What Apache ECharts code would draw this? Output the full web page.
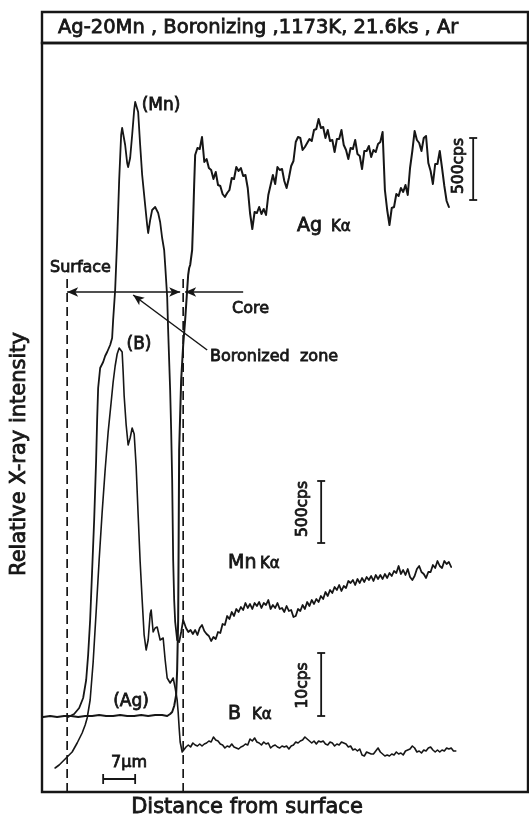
<!DOCTYPE html>
<html>
<head>
<meta charset="utf-8">
<title>Ag-20Mn boronizing - EPMA line analysis</title>
<script src="https://cdn.jsdelivr.net/npm/echarts@6/dist/echarts.min.js"></script>
<style>
html,body{margin:0;padding:0;background:#fff;}
#chart{width:529px;height:818px;}
</style>
</head>
<body>
<div id="chart"></div>
<script>
// Distance from the surface in µm, intensity in relative trace units.
const STEP = 0.5; // µm between samples of the core traces

// Ag Kα: (Ag) level across the boronized zone and its rise at the boundary
const agEdgeX = [-5.25,-3.72,-2.19,-0.66,0.88,2.41,3.94,5.47,7.0,8.53,10.06,11.59,13.13,14.66,16.19,17.72,19.25,20.78,21.88,22.53,22.97,23.41,23.84,24.06,24.28,24.39,24.5,24.94,25.38,25.81,26.25,26.47,26.69,26.91,27.34,27.56,27.78];
const agEdgeY = [75,76,75,76,76,75,76,76,77,76,76,77,76,76,77,76,77,77,76,78,80,86,97,122,172,252,342,412,447,472,502,517,524,527,542,572,607];
// Ag Kα in the core, one value every STEP µm from agCoreStart
const agCoreStart = 28.0;
const agCoreY = [637,644,643,655,630,633,624,622,613,620,
  607,606,598,595,599,602,614,613,625,621,
  624,616,617,604,579,563,580,579,585,578,
  583,577,597,607,617,608,625,622,623,611,
  604,614,626,631,650,655,654,642,645,649,
  653,651,662,663,673,664,665,654,662,651,
  652,640,653,653,662,647,642,633,644,643,
  652,638,636,623,641,641,646,635,642,640,
  648,650,660,602,582,567,584,585,598,596,
  604,600,607,597,624,641,661,652,649,641,
  654,656,629,621,608,628,628,641,624,606,
  591,585];

// Mn Kα: the (Mn) peak inside the boronized zone
const mnEdgeX = [0.22,1.53,2.63,3.5,4.16,4.59,5.03,5.47,5.91,6.34,6.56,6.78,7.22,7.88,8.31,8.75,9.41,9.84,10.06,10.5,10.94,11.38,11.81,12.03,12.25,12.69,13.13,13.34,13.78,14.22,14.66,14.88,15.09,15.31,15.53,15.97,16.41,17.06,17.5,17.72,18.16,18.59,19.25,19.91,20.34,20.78,21.22,21.44,21.88,22.09,22.53,22.75,22.97,23.19,23.41,23.63,24.06,24.5,24.94,25.38];
const mnEdgeY = [75,78,84,94,112,137,172,222,272,332,372,404,424,430,436,440,447,454,472,502,552,612,657,664,665,647,629,625,634,657,682,690,692,692,680,647,617,587,567,559,572,582,585,579,570,554,542,527,495,462,402,362,312,232,192,170,152,150,160,172];
const mnCoreStart = 26.0;
const mnCoreY = [164,160,162,158,162,157,164,167,161,158,
  156,151,155,153,160,159,168,167,176,173,
  180,176,183,180,185,182,189,184,188,183,
  189,186,190,184,189,187,192,183,187,184,
  189,183,184,180,186,181,182,175,176,183,
  181,187,183,190,186,192,188,193,190,196,
  193,200,196,202,199,205,202,207,201,206,
  204,211,209,212,207,213,209,214,210,215,
  212,216,211,217,213,217,213,218,214,219,
  216,221,219,226,218,222,217,223,215,212,
  216,223,226,220,218,214,220,220,227,224,
  231,226,224,231,228,230,225];

// B Kα: the (B) peak inside the boronized zone
const bEdgeX = [-2.63,-1.75,-1.09,0,1.09,2.19,3.28,3.94,4.38,5.03,5.69,6.34,7.0,7.66,8.31,8.97,9.63,10.06,10.5,10.94,11.38,11.59,11.81,12.03,12.25,12.47,12.91,13.34,13.56,13.78,14.22,14.44,14.66,15.09,15.53,15.97,16.41,16.84,17.28,17.72,18.16,18.38,18.59,18.81,19.25,19.69,20.34,21.0,21.44,21.88,22.53,23.19,23.63,24.06,24.28,24.5,24.72,25.16,25.59];
const bEdgeY = [24,27,30,35,40,49,59,67,74,92,130,180,232,280,322,360,390,410,426,438,444,445,444,440,420,396,367,347,348,354,364,365,358,326,277,230,192,157,142,152,178,182,180,160,164,165,152,154,132,114,109,114,104,92,80,64,50,40,40];
const bCoreStart = 26.0;
const bCoreY = [45,47,45,49,47,46,48,46,48,49,
  51,50,55,52,51,48,47,44,46,45,
  48,45,44,43,45,46,48,47,53,51,
  54,50,49,47,50,48,49,44,46,47,
  45,44,46,45,46,43,46,47,50,49,
  51,52,55,53,51,49,51,48,51,50,
  51,48,47,50,49,46,48,47,50,49,
  48,45,46,42,43,41,43,37,36,40,
  39,38,38,41,44,40,38,36,37,36,
  38,37,40,38,39,37,41,42,43,46,
  44,40,41,39,42,41,44,45,42,40,
  42,40,42,41,44,43,44,41,41];

// Surface and the boronized zone / core boundary (µm)
const surfaceX = 0;
const boundaryX = 25.38;

const INK = '#161616';
const FONT = '"DejaVu Sans", sans-serif';

function pairs(xs, ys) { return xs.map((x, i) => [x, ys[i]]); }
function sampled(start, ys) { return ys.map((y, i) => [+(start + i * STEP).toFixed(2), y]); }

const agData = pairs(agEdgeX, agEdgeY).concat(sampled(agCoreStart, agCoreY));
const mnData = pairs(mnEdgeX, mnEdgeY).concat(sampled(mnCoreStart, mnCoreY));
const bData = pairs(bEdgeX, bEdgeY).concat(sampled(bCoreStart, bCoreY));

function trace(name, data, width) {
  return {
    name, type: 'line', data, symbol: 'none', silent: true, z: 3,
    lineStyle: { color: INK, width, join: 'round', cap: 'round' }
  };
}

function boundary(x) {
  return {
    type: 'line', data: [[x, 0], [x, 515]], symbol: 'none', silent: true, z: 2,
    lineStyle: { color: INK, width: 1.7, type: [9, 5] }
  };
}

const chart = echarts.init(document.getElementById('chart'), null, { renderer: 'canvas' });

const surfaceLine = boundary(surfaceX);
surfaceLine.markLine = {
  silent: true, animation: false, label: { show: false }, emphasis: { disabled: true },
  symbolSize: [7, 11],
  lineStyle: { color: INK, width: 1.5, type: 'solid' },
  data: [
    [{ coord: [surfaceX, 500], symbol: 'arrow' }, { coord: [24.72, 500], symbol: 'arrow' }],
    [{ coord: [38.5, 500], symbol: 'none' }, { coord: [25.81, 500], symbol: 'arrow' }],
    [{ coord: [14.44, 497], symbol: 'arrow' }, { coord: [30.63, 442], symbol: 'none' }]
  ]
};

chart.setOption({
  animation: false,
  backgroundColor: '#fff',
  grid: { left: 42, right: 1, top: 43, bottom: 26, show: true, borderColor: INK, borderWidth: 2.4 },
  xAxis: { type: 'value', min: -5.5, max: 100.8, show: false },
  yAxis: { type: 'value', min: 0, max: 749, show: false },
  series: [
    surfaceLine,
    boundary(boundaryX),
    trace('Ag Kα', agData, 2.0),
    trace('Mn Kα', mnData, 1.8),
    trace('B Kα', bData, 1.6)
  ]
});

const px = p => chart.convertToPixel({ gridIndex: 0 }, p);

function seg(x1, y1, x2, y2, w) {
  return { type: 'line', silent: true, z: 10,
    shape: { x1, y1, x2, y2 }, style: { stroke: INK, lineWidth: w || 1.8 } };
}
function text(str, x, y, size, o) {
  o = o || {};
  const al = o.align || 'left';
  return { type: 'text', x, y, rotation: o.rot || 0, silent: true, z: 10,
    style: { text: str, x: 0, y: 0, fill: INK, font: size + 'px ' + FONT,
      textAlign: al, align: al, textVerticalAlign: 'middle', verticalAlign: 'middle',
      stroke: INK, lineWidth: o.lw == null ? 0.8 : o.lw } };
}
// vertical intensity scale bar, ends given in trace units
function vbar(x, y0, y1) {
  const a = px([x, y0]), b = px([x, y1]);
  return [seg(a[0], a[1], b[0], b[1]), seg(a[0] - 4, a[1], a[0] + 4, a[1]), seg(b[0] - 4, b[1], b[0] + 4, b[1])];
}
// horizontal distance scale bar, ends given in µm
function hbar(x0, x1, y) {
  const a = px([x0, y]), b = px([x1, y]);
  return [seg(a[0], a[1], b[0], b[1]), seg(a[0], a[1] - 5, a[0], a[1] + 5), seg(b[0], b[1] - 5, b[0], b[1] + 5)];
}

const agBar = vbar(88.81, 592, 654);
const mnBar = vbar(55.56, 249, 311);
const bBar = vbar(55.56, 76, 139);
const umBar = hbar(7.875, 14.875, 13);

const graphics = [
  // title strip above the plot frame
  { type: 'rect', silent: true, z: 10, shape: { x: 42, y: 12, width: 486, height: 31 },
    style: { fill: 'none', stroke: INK, lineWidth: 2.4 } },
  text('Ag-20Mn , Boronizing ,1173K, 21.6ks , Ar', 58, 28, 19.5),
  text('Distance from surface', 247, 808, 21, { align: 'center' }),
  text('Relative X-ray intensity', 20, 454, 21, { align: 'center', rot: Math.PI / 2 }),
  text('Surface', 50, 268, 16),
  text('Core', 232, 309, 16),
  text('Boronized  zone', 210, 357, 16),
  text('(Mn)', 161, 106, 17, { align: 'center' }),
  text('(B)', 139, 345, 17, { align: 'center' }),
  text('(Ag)', 131, 702, 17, { align: 'center' }),
  text('Ag', 297, 226, 19), text('Kα', 331, 227, 15),
  text('Mn', 228, 563, 19), text('Kα', 260, 564, 15),
  text('B', 228, 714, 19), text('Kα', 252, 715, 15),
  text('7µm', 129, 763, 16, { align: 'center' }),
  text('500cps', agBar[0].shape.x1 - 14, (agBar[0].shape.y1 + agBar[0].shape.y2) / 2 - 3, 15.5, { align: 'center', rot: Math.PI / 2 }),
  text('500cps', mnBar[0].shape.x1 - 18, (mnBar[0].shape.y1 + mnBar[0].shape.y2) / 2 - 3, 15.5, { align: 'center', rot: Math.PI / 2 }),
  text('10cps', bBar[0].shape.x1 - 18, (bBar[0].shape.y1 + bBar[0].shape.y2) / 2 + 1, 15.5, { align: 'center', rot: Math.PI / 2 })
].concat(agBar, mnBar, bBar, umBar);

chart.setOption({ graphic: graphics });
</script>
</body>
</html>
